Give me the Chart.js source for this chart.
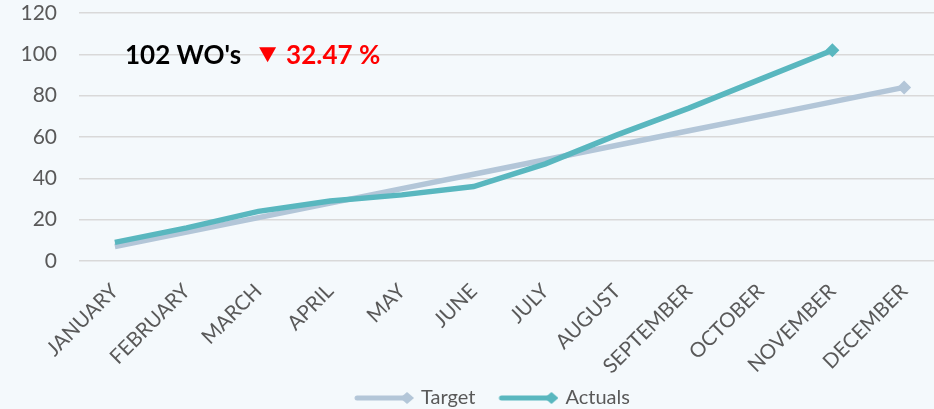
<!DOCTYPE html>
<html>
<head>
<meta charset="utf-8">
<script src="https://cdn.jsdelivr.net/npm/chart.js@4.4.1/dist/chart.umd.min.js"></script>
<style>
  html, body { margin: 0; padding: 0; overflow: hidden; background: #f4f9fc; }
  #wrap { position: absolute; left: 0; top: 0; width: 947px; height: 409px; }
</style>
</head>
<body>
<div id="wrap"><canvas id="grafico"></canvas></div>
<script>
// dados
const months = ['JANUARY', 'FEBRUARY', 'MARCH', 'APRIL', 'MAY', 'JUNE', 'JULY',
  'AUGUST', 'SEPTEMBER', 'OCTOBER', 'NOVEMBER', 'DECEMBER']
const target = [7, 14, 21, 28, 35, 42, 49, 56, 63, 70, 77, 84]
const actuals = [9, 16, 24, 29, 32, 36, 47, 61, 74, 88, 102, null]
const yTicks = [0, 20, 40, 60, 80, 100, 120]
const totalWO = 102
const variation = 32.47

const corTarget = '#b3c6d8'
const corActuals = '#59b7bf'
const cinza = '#595959'
const fonte = 'Lato, "Open Sans", sans-serif'
const yFontSize = 21

// largura do maior rótulo do eixo y (para alinhar à direita com mirror)
const medidor = document.createElement('canvas').getContext('2d')
medidor.font = yFontSize + 'px ' + fonte
const widest = Math.max(...yTicks.map(v => medidor.measureText(String(v)).width))

// marcador só no último ponto de cada série
function lastIndex(arr) {
  let last = -1
  arr.forEach((v, i) => { if (v !== null) last = i })
  return last
}

// imagem da legenda: linha + losango (com margem vazia à esquerda)
function legendIcon(color) {
  const c = document.createElement('canvas')
  c.width = 76
  c.height = 14
  const g = c.getContext('2d')
  g.strokeStyle = color
  g.lineWidth = 5
  g.lineCap = 'round'
  g.beginPath()
  g.moveTo(19, 7)
  g.lineTo(69, 7)
  g.stroke()
  g.fillStyle = color
  g.beginPath()
  g.moveTo(69, 1)
  g.lineTo(76, 7)
  g.lineTo(69, 13)
  g.lineTo(62, 7)
  g.closePath()
  g.fill()
  return c
}

const annotation = {
  id: 'annotation',
  afterDraw(chart) {
    const { ctx, chartArea, scales } = chart
    const y = scales.y.getPixelForValue(100)
    let x = chartArea.left + 46
    ctx.save()
    ctx.font = 'bold 26px ' + fonte
    ctx.textBaseline = 'middle'
    ctx.fillStyle = '#000000'
    const t1 = totalWO + " WO's"
    ctx.fillText(t1, x, y + 1)
    x += ctx.measureText(t1).width + 18
    ctx.fillStyle = '#ff0000'
    ctx.beginPath()
    ctx.moveTo(x, y - 7)
    ctx.lineTo(x + 17, y - 7)
    ctx.lineTo(x + 8.5, y + 8)
    ctx.closePath()
    ctx.fill()
    x += 27
    ctx.fillText(variation.toFixed(2) + ' %', x, y + 1)
    ctx.restore()
  }
}

const data = {
  labels: months,
  datasets: [
    {
      label: 'Target',
      data: target,
      borderColor: corTarget,
      backgroundColor: corTarget,
      borderWidth: 5.5,
      order: 1,
      pointStyle: 'rectRot',
      pointRadius: c => c.dataIndex === lastIndex(target) ? 7 : 0,
      pointBorderWidth: 0
    },
    {
      label: 'Actuals',
      data: actuals,
      borderColor: corActuals,
      backgroundColor: corActuals,
      borderWidth: 5.5,
      order: 0,
      pointStyle: 'rectRot',
      pointRadius: c => c.dataIndex === lastIndex(actuals) ? 7 : 0,
      pointBorderWidth: 0
    }
  ]
}

const icons = { Target: legendIcon(corTarget), Actuals: legendIcon(corActuals) }

const config = {
  type: 'line',
  data,
  options: {
    responsive: true,
    maintainAspectRatio: false,
    animation: false,
    layout: { padding: { top: 13, left: 24, right: 0, bottom: -9 } },
    plugins: {
      tooltip: { enabled: false },
      legend: {
        position: 'bottom',
        labels: {
          usePointStyle: true,
          pointStyleWidth: 70,
          padding: 10,
          color: cinza,
          font: { family: fonte, size: 20 },
          sort: (a, b) => a.datasetIndex - b.datasetIndex,
          generateLabels(chart) {
            return chart.data.datasets.map((ds, i) => ({
              text: ds.label,
              pointStyle: icons[ds.label],
              fillStyle: ds.borderColor,
              strokeStyle: ds.borderColor,
              lineWidth: 0,
              fontColor: cinza,
              hidden: false,
              datasetIndex: i
            }))
          }
        }
      }
    },
    scales: {
      x: {
        offset: true,
        grid: { display: false, drawTicks: false },
        border: { display: false },
        ticks: {
          autoSkip: false,
          minRotation: 45,
          maxRotation: 45,
          padding: 18,
          color: cinza,
          font: { family: fonte, size: 20.5 }
        },
        afterFit: s => { s.height = 117 }
      },
      y: {
        min: 0,
        max: 120,
        afterBuildTicks: s => { s.ticks = yTicks.map(v => ({ value: v })) },
        grid: { color: '#d9d9d9', lineWidth: 1.5, drawTicks: false },
        border: { display: false },
        ticks: {
          mirror: true,
          crossAlign: 'far',
          padding: -22 - widest,
          color: cinza,
          font: { family: fonte, size: yFontSize }
        },
        afterFit: s => { s.width = 55 }
      }
    }
  },
  plugins: [annotation]
}

const graph = new Chart(document.getElementById('grafico'), config)
</script>
</body>
</html>
